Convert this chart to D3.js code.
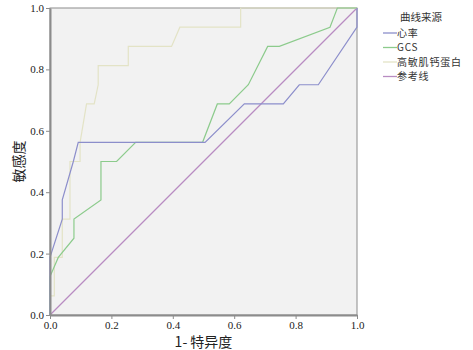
<!DOCTYPE html>
<html>
<head>
<meta charset="utf-8">
<script src="https://cdn.jsdelivr.net/npm/d3@7"></script>
<style>
  body { margin: 0; background: #fff; }
</style>
</head>
<body>
<div id="chart"></div>
<script>
// ROC curve data (1 - specificity, sensitivity)
var heartX = [0, 0, 0.04, 0.04, 0.076, 0.092, 0.505, 0.633, 0.76, 0.812, 0.874, 1, 1];
var heartY = [0, 0.1875, 0.3125, 0.375, 0.5, 0.5625, 0.5625, 0.6875, 0.6875, 0.75, 0.75, 0.9375, 1];

var gcsX = [0, 0, 0.027, 0.078, 0.078, 0.166, 0.166, 0.217, 0.279, 0.497, 0.545, 0.584, 0.646, 0.709, 0.747, 0.912, 0.936, 1];
var gcsY = [0, 0.125, 0.1875, 0.25, 0.3125, 0.375, 0.5, 0.5, 0.5625, 0.5625, 0.6875, 0.6875, 0.75, 0.875, 0.875, 0.9375, 1, 1];

var tropX = [0, 0, 0.014, 0.014, 0.04, 0.04, 0.065, 0.065, 0.098, 0.098, 0.119, 0.144, 0.157, 0.157, 0.255, 0.255, 0.396, 0.423, 0.621, 0.621, 1];
var tropY = [0, 0.0625, 0.0625, 0.1875, 0.1875, 0.3125, 0.3125, 0.5, 0.5, 0.5625, 0.6875, 0.6875, 0.75, 0.8125, 0.8125, 0.875, 0.875, 0.9375, 0.9375, 1, 1];

var refX = [0, 1];
var refY = [0, 1];

var seriesNames = ["心率", "GCS", "高敏肌钙蛋白", "参考线"];
var seriesColors = ["#8c8ecb", "#8ccb8c", "#e3e3c6", "#b88cc2"];
var tickValues = [0, 0.2, 0.4, 0.6, 0.8, 1.0];

(function() {
  var w = 473, h = 350;
  var pLeft = 50, pTop = 8, pRight = 357, pBottom = 315;

  var svg = d3.select("#chart").append("svg")
    .attr("width", w)
    .attr("height", h);

  var x = d3.scaleLinear().domain([0, 1]).range([pLeft, pRight]);
  var y = d3.scaleLinear().domain([0, 1]).range([pBottom, pTop]);

  // plot background + frame
  svg.append("rect")
    .attr("x", pLeft).attr("y", pTop)
    .attr("width", pRight - pLeft).attr("height", pBottom - pTop)
    .attr("fill", "#f2f2f2")
    .attr("stroke", "#8c8c8c")
    .attr("stroke-width", 1);

  var allX = [heartX, gcsX, tropX, refX];
  var allY = [heartY, gcsY, tropY, refY];

  var line = d3.line()
    .x(function(d) { return x(d[0]); })
    .y(function(d) { return y(d[1]); });

  // reference first, then the curves
  [3, 2, 1, 0].forEach(function(i) {
    var pts = allX[i].map(function(v, j) { return [v, allY[i][j]]; });
    svg.append("path")
      .datum(pts)
      .attr("d", line)
      .attr("fill", "none")
      .attr("stroke", seriesColors[i])
      .attr("stroke-width", 1.2);
  });

  // axes
  var xAxis = svg.append("g")
    .attr("transform", "translate(0," + pBottom + ")")
    .call(d3.axisBottom(x).tickValues(tickValues).tickFormat(d3.format(".1f")).tickSize(4).tickSizeOuter(0));
  var yAxis = svg.append("g")
    .attr("transform", "translate(" + pLeft + ",0)")
    .call(d3.axisLeft(y).tickValues(tickValues).tickFormat(d3.format(".1f")).tickSize(4).tickSizeOuter(0));

  [xAxis, yAxis].forEach(function(a) {
    a.select(".domain").attr("stroke", "#8c8c8c").attr("stroke-width", 2);
    a.selectAll(".tick line").attr("stroke", "#8c8c8c");
    a.selectAll(".tick text")
      .attr("font-family", "'Liberation Serif', 'DejaVu Serif', serif")
      .attr("font-size", "11px")
      .attr("fill", "#222");
  });
  xAxis.selectAll(".tick text").attr("y", 6);
  yAxis.selectAll(".tick text").attr("x", -6);

  // axis titles
  svg.append("text")
    .attr("x", (pLeft + pRight) / 2)
    .attr("y", 347)
    .attr("text-anchor", "middle")
    .attr("font-family", "'Noto Sans CJK SC', sans-serif")
    .attr("font-size", "14px")
    .attr("fill", "#222")
    .text("1- 特异度");

  svg.append("text")
    .attr("transform", "translate(24," + ((pTop + pBottom) / 2) + ") rotate(-90)")
    .attr("text-anchor", "middle")
    .attr("font-family", "'Noto Sans CJK SC', sans-serif")
    .attr("font-size", "14px")
    .attr("fill", "#222")
    .text("敏感度");

  // legend
  var lg = svg.append("g");
  lg.append("text")
    .attr("x", 400).attr("y", 21)
    .attr("font-family", "'Noto Sans CJK SC', sans-serif")
    .attr("font-size", "10.5px")
    .attr("fill", "#333")
    .text("曲线来源");

  seriesNames.forEach(function(name, i) {
    var ly = 33 + i * 14.5;
    lg.append("line")
      .attr("x1", 383).attr("x2", 397)
      .attr("y1", ly).attr("y2", ly)
      .attr("stroke", seriesColors[i])
      .attr("stroke-width", 1.3);
    lg.append("text")
      .attr("x", 397).attr("y", ly + 3.6)
      .attr("font-family", "'Noto Sans CJK SC', sans-serif")
      .attr("font-size", "10px")
      .attr("letter-spacing", "0.8px")
      .attr("fill", "#333")
      .text(name);
  });
})();
</script>
</body>
</html>
